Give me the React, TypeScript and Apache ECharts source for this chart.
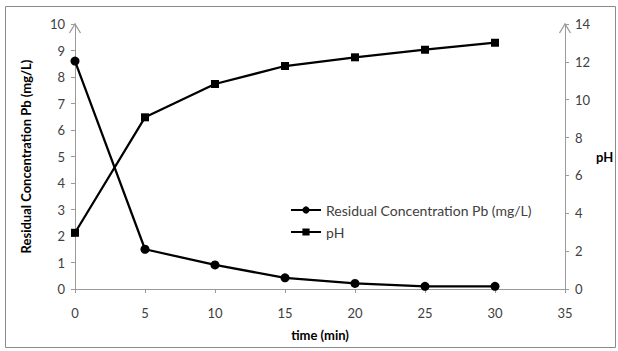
import React, { useEffect, useRef } from "react";
import * as echarts from "echarts";

const timeMin = [0, 5, 10, 15, 20, 25, 30];
const pbValues = [8.6, 1.5, 0.91, 0.42, 0.21, 0.1, 0.1];
const phValues = [2.97, 9.07, 10.83, 11.78, 12.24, 12.64, 13.01];
const seriesNames = ["Residual Concentration Pb (mg/L)", "pH"];

const FONT = "Lato, 'Noto Sans', sans-serif";
const AXIS_COLOR = "#9a9a9a";
const TEXT_COLOR = "#404040";

export default function App() {
  const ref = useRef<HTMLDivElement>(null);
  useEffect(() => {
    if (!ref.current) return;
    const chart = echarts.init(ref.current, null, { renderer: "svg" });
    const axisCommon = {
      axisLine: { show: true, lineStyle: { color: AXIS_COLOR, width: 1 } },
      axisTick: { show: true, length: 4, lineStyle: { color: AXIS_COLOR } },
      splitLine: { show: false },
      axisLabel: { color: TEXT_COLOR, fontSize: 13, fontFamily: FONT },
      nameTextStyle: { color: "#000", fontSize: 13, fontWeight: "bold", fontFamily: FONT },
    };
    chart.setOption({
      animation: false,
      backgroundColor: "#fff",
      grid: { left: 75, right: 53, top: 24, bottom: 62, containLabel: false },
      legend: {
        orient: "vertical",
        left: 285,
        top: 198,
        itemWidth: 30,
        itemHeight: 9,
        itemGap: 8,
        textStyle: { color: TEXT_COLOR, fontSize: 14, fontFamily: FONT },
        data: seriesNames,
      },
      xAxis: {
        type: "value",
        min: 0,
        max: 35,
        interval: 5,
        name: "time (min)",
        nameLocation: "middle",
        nameGap: 39,
        ...axisCommon,
        axisLabel: { ...axisCommon.axisLabel, margin: 17 },
      },
      yAxis: [
        {
          type: "value",
          min: 0,
          max: 10,
          interval: 1,
          name: seriesNames[0],
          nameLocation: "middle",
          nameGap: 43,
          ...axisCommon,
          axisLabel: { ...axisCommon.axisLabel, margin: 10 },
        },
        {
          type: "value",
          position: "right",
          min: 0,
          max: 14,
          interval: 2,
          name: "pH",
          nameLocation: "middle",
          nameGap: 23,
          nameRotate: 0,
          ...axisCommon,
          axisLabel: { ...axisCommon.axisLabel, margin: 10 },
        },
      ],
      series: [
        {
          name: seriesNames[0],
          type: "line",
          yAxisIndex: 0,
          data: timeMin.map((t, i) => [t, pbValues[i]]),
          symbol: "circle",
          symbolSize: 9,
          itemStyle: { color: "#000" },
          lineStyle: { color: "#000", width: 2.25 },
          z: 3,
        },
        {
          name: seriesNames[1],
          type: "line",
          yAxisIndex: 1,
          data: timeMin.map((t, i) => [t, phValues[i]]),
          symbol: "rect",
          symbolSize: 8,
          itemStyle: { color: "#000" },
          lineStyle: { color: "#000", width: 2.25 },
          z: 3,
        },
      ],
      graphic: [
        {
          type: "rect",
          shape: { x: 5.5, y: 6.5, width: 610, height: 341 },
          style: { fill: "none", stroke: "#8a8a8a", lineWidth: 1 },
          silent: true,
        },
        {
          type: "polyline",
          shape: { points: [[69.5, 33], [75, 24], [80.5, 33]] },
          style: { fill: "none", stroke: AXIS_COLOR, lineWidth: 1.3 },
          silent: true,
        },
        {
          type: "polyline",
          shape: { points: [[559.5, 33], [565, 24], [570.5, 33]] },
          style: { fill: "none", stroke: AXIS_COLOR, lineWidth: 1.3 },
          silent: true,
        },
      ],
    });
    return () => chart.dispose();
  }, []);
  return (
    <div
      ref={ref}
      style={{ position: "absolute", left: 0, top: 0, width: 618, height: 351 }}
    />
  );
}
